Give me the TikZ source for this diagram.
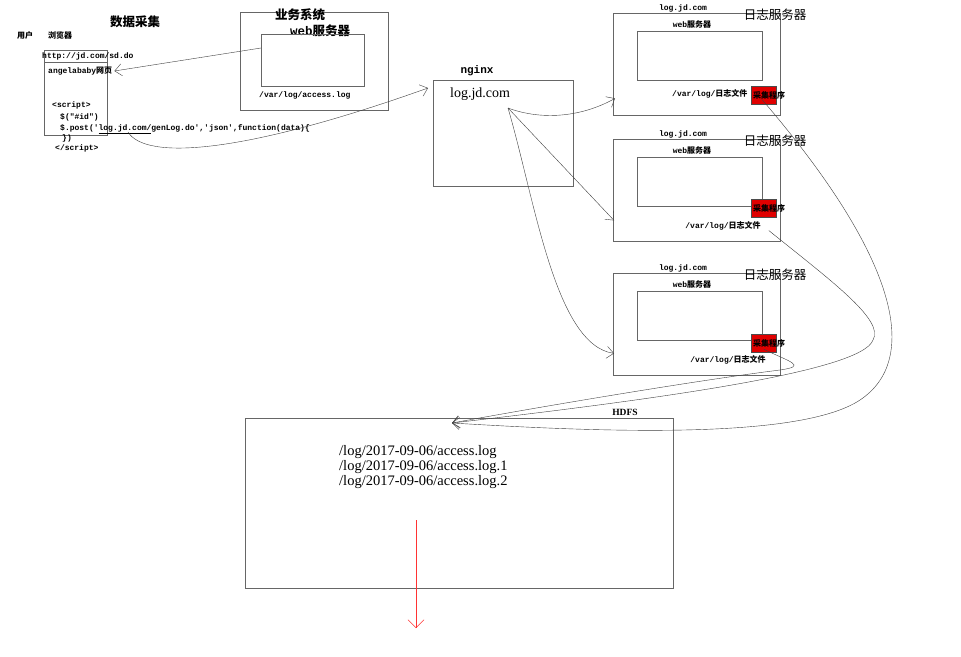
\documentclass[tikz,border=0pt]{standalone}
\usepackage{fontspec}
\setmainfont{Liberation Serif}
\setmonofont{Liberation Mono}
\newfontfamily\cjk{Noto Sans CJK SC}
\usetikzlibrary{arrows.meta}
\tikzset{
  box/.style={draw=black!60, anchor=north west, inner sep=0pt},
  redbox/.style={draw=black!70, fill=red!88!black, anchor=north west, inner sep=0pt,
    minimum width=25pt, minimum height=18pt},
  code/.style={font=\ttfamily\bfseries\fontsize{8}{9}\selectfont, anchor=west, inner sep=0pt},
  small/.style={font=\cjk\bfseries\fontsize{8}{9}\selectfont, inner sep=0pt},
  title/.style={font=\cjk\bfseries\fontsize{12.5}{13}\selectfont, inner sep=0pt},
  srvtitle/.style={font=\cjk\fontsize{12.5}{13}\selectfont, inner sep=0pt},
  hdfsline/.style={font=\fontsize{14.5}{15}\selectfont, anchor=west, inner sep=0pt},
  link/.style={draw=black!75, thin, -{Straight Barb[length=7pt,width=12pt]}},
  redlink/.style={draw=red!80, thin, -{Straight Barb[length=8pt,width=16pt]}}
}
\newcommand{\zh}[1]{{\cjk #1}}

\begin{document}
\begin{tikzpicture}[x=1pt,y=-1pt]
    \useasboundingbox (0,0) rectangle (961,656);
    \fill[white] (0,0) rectangle (961,656);
    % ---------------------
    \node[title] (tcollect) at (135,22) {数据采集};
    \node[small] (tuser) at (25,35) {用户};
    \node[small] (tbrowser) at (60,35) {浏览器};
    \node[box, minimum width=63pt, minimum height=85pt] (browser) at (44,50) {};
    \draw[black!60] ([yshift=-12pt]browser.north west) -- ([yshift=-12pt]browser.north east);
    \node[code] (url) at (42,56) {http://jd.com/sd.do};
    \node[code] (angela) at (48,71) {angelababy\zh{网页}};
    \node[code] (s1) at (52,105) {<script>};
    \node[code] (s2) at (60,117) {\$("\#id")};
    \node[code] (s3) at (60,129) {\$.post('\underline{log.jd.com/}genLog.do','json',function(data)\{};
    \node[code] (s4) at (62,138) {\})};
    \node[code] (s5) at (55,148) {</script>};
    % ---------------------
    \node[box, minimum width=148pt, minimum height=98pt] (biz) at (240,12) {};
    \node[title] (tbiz) at (300,15) {业务系统};
    \node[title] (tbizweb) at (320,31) {{\ttfamily web}服务器};
    \node[box, minimum width=103pt, minimum height=52pt] (bizweb) at (261,34) {};
    \node[code] (acclog) at (259,95) {/var/log/access.log};
    % ---------------------
    \node[box, minimum width=140pt, minimum height=106pt] (nginx) at (433,80) {};
    \node[font=\ttfamily\bfseries\fontsize{11}{12}\selectfont, inner sep=0pt] (tnginx) at (477,71) {nginx};
    \node[font=\fontsize{14}{15}\selectfont, anchor=west, inner sep=0pt] (nginxurl) at (450,94) {log.jd.com};
    \coordinate (ngsrc) at (508,108);
    % ---------------------
    \foreach \n/\t/\r in {1/13/73, 2/139/60, 3/273/61} {
      \node[box, minimum width=167pt, minimum height=102pt] (srv\n) at (613,\t) {};
      \node[box, minimum width=125pt, minimum height=49pt] (web\n) at (637,\t+18) {};
      \node[code, anchor=center] (host\n) at (683,\t-5) {log.jd.com};
      \node[srvtitle] (tlog\n) at (775,\t+2) {日志服务器};
      \node[small] (tweb\n) at (692,\t+11) {{\ttfamily web}服务器};
      \node[redbox] (agent\n) at (751,\t+\r) {};
      \node[small, anchor=west] (tagent\n) at (753,\t+\r+9) {采集程序};
    }
    \node[code] (file1) at (672,94) {/var/log/\zh{日志文件}};
    \node[code, anchor=center] (file2) at (723,226) {/var/log/\zh{日志文件}};
    \node[code, anchor=center] (file3) at (728,360) {/var/log/\zh{日志文件}};
    % ---------------------
    \node[box, minimum width=428pt, minimum height=170pt] (hdfs) at (245,418) {};
    \node[font=\bfseries\fontsize{9.5}{10}\selectfont, inner sep=0pt] (thdfs) at (625,412) {HDFS};
    \node[hdfsline] (h1) at (339,452) {/log/2017-09-06/access.log};
    \node[hdfsline] (h2) at (339,467) {/log/2017-09-06/access.log.1};
    \node[hdfsline] (h3) at (339,482) {/log/2017-09-06/access.log.2};
    \coordinate (hdfsin) at ([shift={(207,5)}]hdfs.north west);
    \coordinate (outtop) at (416,520);
    \coordinate (outend) at (416,628);
    % ---------------------
    \coordinate (bizsrc) at ([yshift=-14pt]bizweb.north west);
    \coordinate (postsrc) at (128,132);
    \draw[link] (bizsrc) -- ([xshift=2pt]angela.east);
    \draw[link] (postsrc) .. controls (145,160) and (240,155) .. ([xshift=-5pt,yshift=-8pt]nginx.north west);
    \draw[link] (ngsrc) .. controls (540,120) and (580,118) .. ([shift={(2,-17)}]srv1.south west);
    \draw[link] (ngsrc) -- ([shift={(1,-21)}]srv2.south west);
    \draw[link] (ngsrc) .. controls (535,200) and (555,345) .. ([shift={(1,-22)}]srv3.south west);
    % ---------------------
    \draw[link] ([xshift=-2pt,yshift=-4pt]agent1.center) .. controls (900,260) and (920,360) .. (860,400)
      .. controls (800,440) and (600,432) .. (hdfsin);
    \draw[link] ([xshift=8pt]file2.south east) .. controls (830,280) and (885,320) .. (873,340)
      .. controls (862,372) and (650,400) .. (hdfsin);
    \draw[link] ([yshift=-6pt]agent3.center) .. controls (790,362) and (808,366) .. (780,370)
      .. controls (700,380) and (550,405) .. (hdfsin);
    \draw[redlink] (outtop) -- (outend);
  \end{tikzpicture}
\end{document}
